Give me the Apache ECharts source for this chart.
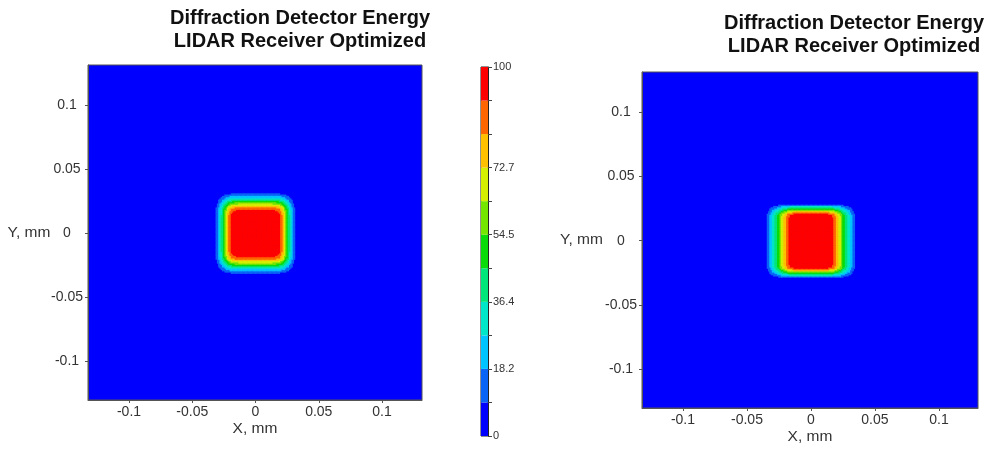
<!DOCTYPE html>
<html>
<head>
<meta charset="utf-8">
<script src="https://cdn.jsdelivr.net/npm/echarts@6/dist/echarts.min.js"></script>
<style>
html,body{margin:0;padding:0;background:#fff;}
#chart{width:994px;height:449px;}
</style>
</head>
<body>
<div id="chart"></div>
<script>
// ---- data ----
const titleText = 'Diffraction Detector Energy\nLIDAR Receiver Optimized';
const xName = 'X, mm';
const yName = 'Y, mm';
const tickValues = [-0.1, -0.05, 0, 0.05, 0.1];
const tickLabels = ['-0.1', '-0.05', '0', '0.05', '0.1'];

// colour levels (11 bands, 0..100)
const levels = [0, 9.09, 18.18, 27.27, 36.36, 45.45, 54.55, 63.64, 72.73, 81.82, 90.91, 100];
const bandColors = ['#0000ff', '#0a64f5', '#00c4ff', '#00e6c8', '#00e67a', '#0adc0a', '#74e600', '#d4f000', '#ffc000', '#ff6600', '#ff0000'];
const cbLabelValues = [0, 18.18, 36.36, 54.55, 72.73, 100];
const cbLabels = ['0', '18.2', '36.4', '54.5', '72.7', '100'];

// energy profiles through the centre, sampled every 0.001 mm from the centre outward (percent)
const PROFILE_STEP_MM = 0.001;
const leftXProfile = [100,100,100,100,100,100,100,100,100,100, 100,100,100,100,99,99,98,97,95,93, 88,83,76,69,61,53,45,37,30,23, 16,11,7,4,2,1,0,0,0,0, 0];
const leftYProfile = [100,100,100,100,100,100,100,100,100,100, 100,100,100,99,99,98,97,95,92,89, 84,78,71,64,56,48,41,34,27,21, 15,10,6,3,1,0,0,0,0,0, 0];
const rightXProfile = [100,100,100,100,100,100,100,100,100,100, 100,100,99,99,98,97,95,92,89,85, 80,75,70,65,60,54,49,44,39,34, 29,24,19,14,10,7,4,2,1,0, 0];
const rightYProfile = [100,100,100,100,100,100,100,100,100,100, 100,100,100,100,100,100,100,99,99,98, 96,92,84,74,63,52,40,29,18,8, 4,2,1,0,0,0,0,0,0,0, 0];

// ---- build cell tables from the profiles ----
function buildCells(px, py) {
  const n = px.length - 1;
  const cells = [];
  for (let i = -n; i <= n; i++) {
    for (let j = -n; j <= n; j++) {
      const v = px[Math.abs(i)] * py[Math.abs(j)] / 100;
      if (v > 0) cells.push([i * PROFILE_STEP_MM, j * PROFILE_STEP_MM, v]);
    }
  }
  return cells;
}
const leftCells = buildCells(leftXProfile, leftYProfile);
const rightCells = buildCells(rightXProfile, rightYProfile);

function renderCell(params, api) {
  const x = api.value(0), y = api.value(1), h = PROFILE_STEP_MM / 2;
  const p0 = api.coord([x - h, y + h]);
  const p1 = api.coord([x + h, y - h]);
  return {
    type: 'rect',
    shape: { x: p0[0], y: p0[1], width: p1[0] - p0[0] + 0.6, height: p1[1] - p0[1] + 0.6 },
    style: { fill: api.visual('color') }
  };
}

const FONT = '"Liberation Sans", Arial, sans-serif';
const labelColor = '#333';
const axisColor = '#555';

function fmtTick(v) {
  let best = 0;
  for (let k = 0; k < tickValues.length; k++) if (Math.abs(tickValues[k] - v) < Math.abs(tickValues[best] - v)) best = k;
  return tickLabels[best];
}
function fmtCb(v) {
  let best = 0;
  for (let k = 0; k < cbLabelValues.length; k++) if (Math.abs(cbLabelValues[k] - v) < Math.abs(cbLabelValues[best] - v)) best = k;
  return cbLabels[best];
}

function makeXAxis(gridIndex, min, max) {
  return {
    type: 'value', gridIndex, min, max, position: 'bottom',
    name: xName, nameLocation: 'middle', nameGap: 21, nameMoveOverlap: false,
    nameTextStyle: { color: labelColor, fontSize: 15.5, fontFamily: FONT },
    axisLine: { show: true, onZero: false, lineStyle: { color: axisColor, width: 1 } },
    axisTick: { show: true, length: 3, customValues: tickValues, lineStyle: { color: axisColor } },
    axisLabel: { customValues: tickValues, formatter: fmtTick, color: labelColor, fontSize: 14, fontFamily: FONT, margin: 5 },
    splitLine: { show: false }
  };
}
function makeYAxis(gridIndex, min, max, nameGap) {
  return {
    type: 'value', gridIndex, min, max, position: 'left',
    name: yName, nameLocation: 'middle', nameRotate: 0, nameGap, nameMoveOverlap: false,
    nameTextStyle: { color: labelColor, fontSize: 15.5, fontFamily: FONT, align: 'center', verticalAlign: 'middle' },
    axisLine: { show: true, onZero: false, lineStyle: { color: axisColor, width: 1 } },
    axisTick: { show: true, length: 3, customValues: tickValues, lineStyle: { color: axisColor } },
    axisLabel: { customValues: tickValues, formatter: fmtTick, color: labelColor, fontSize: 14, fontFamily: FONT, margin: 21, align: 'center' },
    splitLine: { show: false }
  };
}

const cbSeries = [];
for (let i = 0; i < bandColors.length; i++) {
  cbSeries.push({
    type: 'bar', xAxisIndex: 2, yAxisIndex: 2, stack: 'cb', barWidth: '100%', silent: true,
    data: [levels[i + 1] - levels[i]], itemStyle: { color: bandColors[i] }
  });
}

const pieces = [];
for (let i = 0; i < bandColors.length; i++) {
  const p = { gte: levels[i], color: bandColors[i] };
  if (i < bandColors.length - 1) p.lt = levels[i + 1]; else p.lte = levels[i + 1];
  pieces.push(p);
}

const option = {
  animation: false,
  backgroundColor: '#fff',
  title: [
    { text: titleText, left: 300, top: 7, textAlign: 'center', padding: 0,
      textStyle: { fontSize: 20, fontWeight: 'bold', color: '#111', fontFamily: FONT, lineHeight: 23 } },
    { text: titleText, left: 854, top: 12, textAlign: 'center', padding: 0,
      textStyle: { fontSize: 20, fontWeight: 'bold', color: '#111', fontFamily: FONT, lineHeight: 23 } }
  ],
  grid: [
    { left: 88, top: 65, width: 334, height: 335, show: true, backgroundColor: '#0000ff', borderColor: axisColor, borderWidth: 1, containLabel: false, outerBoundsMode: 'none' },
    { left: 642, top: 72, width: 336, height: 336, show: true, backgroundColor: '#0000ff', borderColor: axisColor, borderWidth: 1, containLabel: false, outerBoundsMode: 'none' },
    { left: 481, top: 67, width: 7, height: 369, show: true, borderColor: '#222', borderWidth: 1, containLabel: false, outerBoundsMode: 'none' }
  ],
  xAxis: [
    makeXAxis(0, -0.1324, 0.1316),
    makeXAxis(1, -0.1320, 0.1305),
    { type: 'category', gridIndex: 2, data: ['cb'], show: false }
  ],
  yAxis: [
    makeYAxis(0, -0.1305, 0.1313, 59),
    makeYAxis(1, -0.1304, 0.1315, 60.5),
    { type: 'value', gridIndex: 2, min: 0, max: 100, position: 'right',
      axisLine: { show: true, onZero: false, lineStyle: { color: '#222' } },
      axisTick: { show: true, inside: false, length: 4, customValues: levels, lineStyle: { color: '#444' } },
      axisLabel: { customValues: cbLabelValues, formatter: fmtCb, color: labelColor, fontSize: 11, fontFamily: FONT, margin: 5 },
      splitLine: { show: false } }
  ],
  visualMap: {
    type: 'piecewise', show: false, dimension: 2, seriesIndex: [0, 1], pieces
  },
  series: [
    { type: 'custom', xAxisIndex: 0, yAxisIndex: 0, renderItem: renderCell, data: leftCells, clip: true, progressive: 0, silent: true },
    { type: 'custom', xAxisIndex: 1, yAxisIndex: 1, renderItem: renderCell, data: rightCells, clip: true, progressive: 0, silent: true }
  ].concat(cbSeries)
};

const chart = echarts.init(document.getElementById('chart'), null, { renderer: 'canvas' });
chart.setOption(option);
</script>
</body>
</html>
